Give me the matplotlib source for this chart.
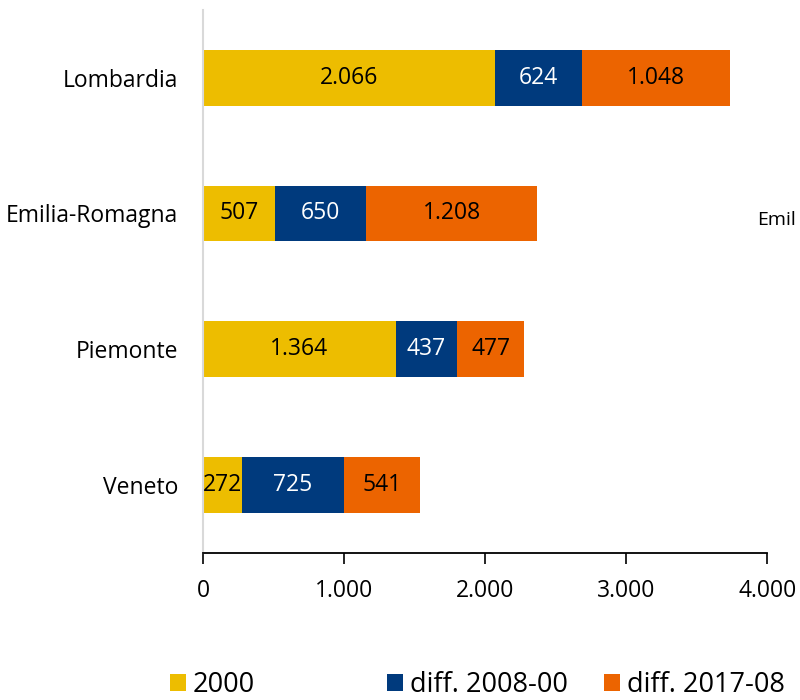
import numpy as np
import matplotlib
matplotlib.use('Agg')
import matplotlib.pyplot as plt

plt.rcParams['font.family'] = ['Open Sans', 'DejaVu Sans']

regioni = ['Lombardia', 'Emilia-Romagna', 'Piemonte', 'Veneto']
v2000 = [2066, 507, 1364, 272]
diff_08_00 = [624, 650, 437, 725]
diff_17_08 = [1048, 1208, 477, 541]
serie = ['2000', 'diff. 2008-00', 'diff. 2017-08']
colori = ['#EDBD00', '#003A7D', '#EC6400']
colori_testo = ['black', 'white', 'black']
xticks = [0, 1000, 2000, 3000, 4000]
xtick_labels = ['0', '1.000', '2.000', '3.000', '4.000']

fig = plt.figure(figsize=(8, 7), dpi=100)
ax = fig.add_axes([0.254, 0.21, 0.705, 0.776])

y = np.arange(len(regioni))
left = np.zeros(len(regioni))
handles = []
for valori, nome, col, ct in zip([v2000, diff_08_00, diff_17_08], serie, colori, colori_testo):
    bars = ax.barh(y, valori, left=left, height=0.41, color=col, label=nome)
    handles.append(bars)
    lab = ['{:,}'.format(v).replace(',', '.') for v in valori]
    ax.bar_label(bars, labels=lab, label_type='center', color=ct, fontsize=16.5)
    left = left + np.array(valori)

ax.set_ylim(3.5, -0.5)
ax.set_xlim(0, 4000)
ax.set_yticks(y)
ax.set_yticklabels(regioni, fontsize=16.5)
ax.set_xticks(xticks)
ax.set_xticklabels(xtick_labels, fontsize=16.5)
ax.tick_params(axis='y', length=0, pad=18)
ax.tick_params(axis='x', direction='out', length=8, width=1.2, pad=11)
for s in ['top', 'right']:
    ax.spines[s].set_visible(False)
ax.spines['left'].set_color('#d9d9d9')
ax.spines['left'].set_linewidth(1.5)
ax.spines['bottom'].set_linewidth(1.3)

fig.text(0.946, 0.686, 'Emil', fontsize=14, ha='left', va='center')

# legenda a colonne fisse, come nell'originale
pos_legenda = [170 / 800, 387 / 800, 604 / 800]
for h, nome, xpos in zip(handles, serie, pos_legenda):
    fig.legend([h], [nome], loc='center left', bbox_to_anchor=(xpos, 0.021),
               frameon=False, fontsize=19.5, borderpad=0, borderaxespad=0,
               handlelength=0.58, handleheight=0.58, handletextpad=0.27)

fig.savefig('out.png', dpi=100)
